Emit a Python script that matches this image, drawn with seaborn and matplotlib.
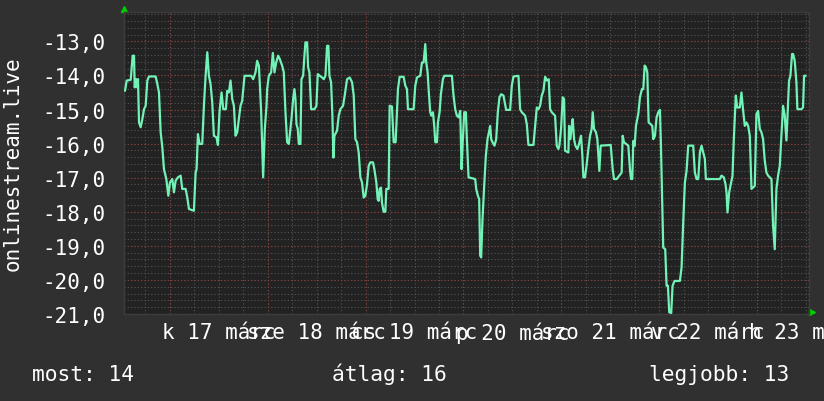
import numpy as np
import pandas as pd
import seaborn as sns
import matplotlib.pyplot as plt

# rrdtool-like dark look
sns.set_theme(style='dark', rc={
    'axes.facecolor': '#222222',
    'figure.facecolor': '#303030',
    'text.color': 'white',
    'axes.labelcolor': 'white',
    'xtick.color': 'white',
    'ytick.color': 'white',
})
plt.rcParams['font.family'] = ['DejaVu Sans Mono', 'DejaVu Sans']

# data: hours since start of the week window, value
hours = [0.25, 0.66, 1.64, 2.13, 2.46, 2.62, 3.03, 3.27, 3.44, 3.68, 4.09, 4.50, 4.91, 5.31, 5.72, 6.13,
         7.76, 8.17, 8.58, 8.99, 9.40, 9.80, 10.38, 10.87, 11.27, 11.85, 12.25, 12.66, 13.23, 13.89, 14.29,
         15.11, 15.52, 15.93, 17.15, 17.56, 17.80, 18.13, 18.54, 19.19, 19.60, 20.01, 20.42, 20.82, 21.23,
         21.64, 22.05, 22.70, 23.03, 23.44, 23.93, 24.34, 24.99, 25.31, 25.72, 26.13, 26.54, 26.95, 27.35,
         27.76, 28.17, 28.58, 28.99, 29.56, 31.19, 31.68, 32.25, 32.66, 33.07, 33.31, 33.64, 34.13, 34.54,
         34.95, 35.11, 35.52, 36.09, 36.50, 36.91, 37.32, 37.81, 38.21, 38.78, 39.19, 39.60, 40.01, 40.42,
         41.07, 41.48, 41.80, 42.05, 42.30, 42.62, 42.87, 43.27, 43.52, 43.93, 44.25, 44.50, 44.91, 45.15,
         45.48, 45.89, 46.70, 47.19, 47.52, 48.01, 48.58, 48.99, 49.40, 49.81, 50.13, 50.38, 50.79, 51.11,
         51.36, 51.60, 52.25, 52.66, 53.07, 53.72, 54.13, 54.70, 55.36, 55.93, 56.34, 56.74, 57.15, 57.56,
         57.97, 58.38, 58.78, 59.19, 59.60, 60.01, 60.42, 61.07, 61.40, 61.89, 62.21, 62.46, 62.70, 63.03,
         63.27, 63.68, 64.09, 64.34, 64.91, 65.15, 65.72, 66.13, 66.62, 66.95, 67.19, 67.60, 68.58, 68.99,
         69.40, 69.64, 71.03, 71.44, 71.85, 72.66, 73.07, 73.48, 73.89, 74.13, 74.46, 74.79, 75.11, 75.36,
         75.77, 76.09, 76.34, 76.75, 76.99, 77.40, 77.72, 78.21, 78.54, 80.42, 80.82, 81.23, 81.64, 82.05,
         82.46, 82.79, 83.11, 83.44, 83.85, 84.09, 84.50, 86.13, 86.38, 86.79, 87.11, 87.36, 87.60, 87.93,
         88.34, 88.74, 89.15, 89.48, 89.81, 90.05, 90.38, 90.87, 91.28, 91.68, 92.09, 92.50, 93.07, 93.72,
         94.70, 95.11, 95.52, 96.74, 97.15, 97.56, 98.38, 98.79, 99.19, 100.42, 100.83, 101.24, 101.64,
         102.05, 102.46, 102.87, 103.28, 103.69, 104.17, 104.50, 104.91, 105.72, 106.13, 106.54, 106.78,
         107.19, 107.60, 107.93, 108.17, 108.99, 109.15, 109.48, 109.80, 110.05, 110.38, 110.70, 111.19,
         111.60, 112.09, 112.42, 112.66, 113.07, 113.48, 113.89, 114.30, 114.70, 114.95, 115.28, 115.76,
         116.09, 116.58, 116.91, 119.36, 119.85, 120.17, 120.83, 121.48, 122.05, 122.30, 122.62, 123.68,
         124.09, 124.34, 124.66, 124.91, 125.24, 125.56, 126.13, 126.54, 127.03, 127.36, 127.69, 128.01,
         128.34, 128.67, 129.15, 129.56, 129.81, 130.22, 130.62, 131.03, 131.44, 131.68, 132.25, 132.74,
         133.07, 133.40, 133.72, 134.21, 134.54, 135.03, 136.34, 136.75, 137.15, 137.56, 137.97, 138.38,
         139.60, 140.01, 140.42, 140.83, 141.24, 141.64, 142.05, 142.46, 142.71, 146.13, 146.54, 147.11,
         147.52, 147.77, 148.01, 148.42, 148.83, 149.24, 149.56, 150.05, 150.38, 151.03, 151.44, 151.85,
         152.26, 152.66, 153.07, 153.48, 153.89, 154.70, 155.11, 155.52, 155.93, 156.34, 156.74, 157.15,
         157.56, 157.97, 158.79, 159.19, 159.60, 160.01, 160.42, 160.83, 161.23, 161.64, 162.05, 162.46,
         162.79, 163.11, 163.44, 163.85, 164.09, 164.50, 164.91, 165.15, 166.13, 166.54, 166.79, 167.20]

online = [-14.45, -14.15, -14.13, -13.42, -13.42, -14.35, -14.11, -14.35, -14.11, -15.38, -15.52, -15.28,
          -14.99, -14.89, -14.15, -14.03, -14.03, -14.25, -14.50, -15.67, -16.11, -16.75, -17.04, -17.53,
          -17.14, -17.04, -17.43, -17.09, -16.99, -16.94, -17.33, -17.33, -17.58, -17.92, -17.97, -16.85,
          -16.75, -15.72, -16.01, -16.01, -14.89, -14.01, -13.32, -14.01, -14.25, -14.79, -15.77, -15.82,
          -16.04, -15.04, -14.50, -14.99, -14.99, -14.45, -14.50, -14.15, -14.69, -14.89, -15.77, -15.67,
          -15.28, -14.89, -14.74, -14.01, -14.01, -14.11, -13.91, -13.57, -13.71, -14.25, -15.08, -16.99,
          -15.57, -14.89, -14.40, -14.01, -13.91, -13.34, -13.91, -13.62, -13.42, -13.52, -13.71, -13.91,
          -15.08, -15.96, -16.01,
          -15.28, -14.69, -14.40, -14.69, -15.43, -15.57, -16.01, -16.01, -14.11, -14.01, -13.42, -13.03,
          -13.03, -13.76, -13.91, -14.99, -14.99, -14.89, -13.96, -14.01, -14.06, -14.11, -14.01, -13.13,
          -13.13, -14.01, -14.20, -15.18, -16.41, -15.77, -15.62, -15.18, -14.99, -14.89, -14.59, -14.11,
          -14.06, -14.20, -14.59, -15.87, -15.96, -16.26, -16.99, -17.14, -17.58, -17.53, -17.19, -16.65,
          -16.55, -16.55, -16.75, -17.14, -17.63, -17.68, -17.33, -17.29, -17.73, -18.00, -18.00, -17.33,
          -17.33, -14.89, -14.91, -15.96, -15.96, -15.08, -14.40, -14.04, -14.04, -14.30, -14.40, -14.99,
          -14.99, -14.30, -14.06, -14.01, -13.62, -13.62, -13.08, -13.62, -13.91, -14.55, -15.08, -15.18,
          -15.08, -15.48, -15.96, -15.96, -15.38, -15.08, -14.55, -14.11, -14.01, -14.01, -14.59, -14.99,
          -15.18, -15.23, -15.04, -16.75, -15.87, -15.08, -15.08, -15.87, -16.99, -17.04, -17.33, -17.53,
          -17.63, -19.29, -19.34, -18.21, -17.24, -16.36, -15.87, -15.67, -15.48, -15.87, -15.96, -16.06,
          -15.87, -15.08, -14.64, -14.55, -14.59, -15.01, -15.01, -14.30, -14.03, -14.01, -14.99, -15.08,
          -15.18, -15.43, -16.04, -16.04, -15.48, -14.94, -14.99, -14.89, -14.59, -14.45, -14.04, -14.15,
          -14.11, -14.99, -15.08, -15.18, -16.06, -16.16, -16.06, -15.57, -14.64, -14.69, -16.21, -16.26,
          -15.48, -15.87, -15.48, -15.28, -15.87, -16.06, -16.16, -16.01, -15.77, -16.36, -16.99, -16.99,
          -16.60, -16.16, -15.77, -15.57, -15.08, -15.57, -15.67, -15.87, -16.80, -16.06, -16.04, -16.75,
          -17.04, -17.04, -16.94, -16.85, -15.77, -15.96, -16.06, -16.75, -17.04, -17.04,
          -15.92, -16.06, -15.48, -15.13, -14.64, -14.40, -14.40, -13.71, -13.76, -13.91, -15.38, -15.43,
          -15.48, -15.87, -15.77, -15.23, -15.08, -15.01, -16.01, -19.05, -19.10, -20.17, -20.17, -20.95,
          -20.97, -20.17, -20.03, -20.03, -19.63, -18.31, -17.14, -16.80, -16.06, -16.06, -16.85, -17.04,
          -17.04, -16.26, -16.06, -16.26, -16.45, -17.04, -17.04, -16.94, -16.99, -17.19, -17.43, -18.02,
          -17.43, -17.19, -16.94, -15.87, -14.59, -14.94, -14.94, -14.50, -15.04, -15.48, -15.38, -15.48,
          -15.77, -17.33, -17.24, -15.13, -15.04, -15.57, -15.67, -15.87, -16.50, -16.85, -16.94, -17.04,
          -18.41, -19.10, -17.33, -16.94, -16.65, -15.77, -14.89, -15.18, -15.91, -14.99, -14.15, -14.01,
          -13.37, -13.37, -13.57, -14.20, -14.99, -14.99, -14.94, -14.01, -14.01]

day_labels = ['k 17 márc', 'sze 18 márc', 'cs 19 márc', 'p 20 márc', 'szo 21 márc', 'v 22 márc', 'h 23 márc']
y_ticks = [-21, -20, -19, -18, -17, -16, -15, -14, -13]
summary = ['most: 14', 'átlag: 16', 'legjobb: 13']

df = pd.DataFrame({'hour': hours, 'value': online})

fig = plt.figure(figsize=(8.24, 4.02), dpi=100)
ax = fig.add_axes([124 / 824, 1 - 315 / 402, 685 / 824, 301.6 / 402])

dots = (0, (1, 2))
# minor grid: every 6 hours / every 0.2
for h in np.arange(5.25, 168, 6):
    ax.axvline(h, color='#555555', lw=0.8, ls=dots, zorder=1)
for v in np.arange(-21, -12.1, 0.2):
    ax.axhline(v, color='#555555', lw=0.8, ls=dots, zorder=1)
# major grid: days / whole units
for h in np.arange(11.25, 168, 24):
    ax.axvline(h, color='#8a3b3b', lw=0.8, ls=dots, zorder=2)
for v in y_ticks:
    ax.axhline(v, color='#8a3b3b', lw=0.8, ls=dots, zorder=2)

sns.lineplot(data=df, x='hour', y='value', color='#72f2b6', lw=1.6, estimator=None, ax=ax, zorder=3)

ax.set_xlim(0, 168)
ax.set_ylim(-21, -12.15)
ax.set_xticks([23.25 + 24 * i for i in range(7)])
ax.set_xticklabels(day_labels)
ax.set_yticks(y_ticks)
ax.set_yticklabels([f'{v:.1f}'.replace('.', ',') for v in y_ticks])
ax.tick_params(axis='x', length=0, labelsize=15, pad=5.5)
ax.tick_params(axis='y', length=0, labelsize=15, pad=13)
ax.set_xlabel('')
ax.set_ylabel('')
for s in ax.spines.values():
    s.set_color('#3c3c3c')
    s.set_linewidth(1)

# little green arrows at the axis ends
ax.plot([0], [1.012], marker='^', ms=5, color='#00d000', transform=ax.transAxes, clip_on=False)
ax.plot([1.005], [0.006], marker='>', ms=5, color='#00d000', transform=ax.transAxes, clip_on=False)

fig.text(13 / 824, 1 - 164 / 402, 'onlinestream.live', rotation=90, ha='center', va='center', fontsize=15)
fig.text(32 / 824, 1 - 381 / 402, summary[0], ha='left', va='baseline', fontsize=15.3)
fig.text(332 / 824, 1 - 381 / 402, summary[1], ha='left', va='baseline', fontsize=15.3)
fig.text(649 / 824, 1 - 381 / 402, summary[2], ha='left', va='baseline', fontsize=15.3)

fig.savefig('out.png', dpi=100)
